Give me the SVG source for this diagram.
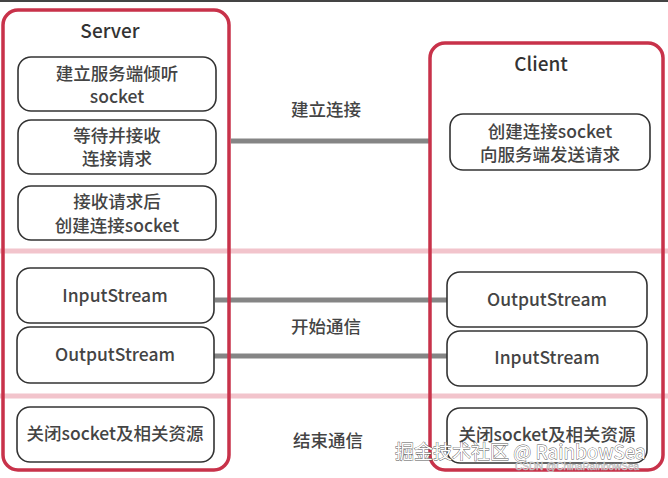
<svg xmlns="http://www.w3.org/2000/svg" width="668" height="478" viewBox="0 0 668 478">
<style>
.bg{fill:#ffffff}
.sep{stroke:#f2c4cc;stroke-width:5}
.cont{fill:none;stroke:#c8324a;stroke-width:3.5}
.box{fill:#ffffff;stroke:#333333;stroke-width:1.6}
.t{font-family:"Noto Sans CJK SC","Noto Sans",sans-serif;font-size:17.5px;font-weight:500;fill:#444444;text-anchor:middle}
.title{font-family:"Noto Sans CJK SC","Noto Sans",sans-serif;font-size:19px;font-weight:500;fill:#333333;text-anchor:middle}
.conn{stroke:#858585;stroke-width:5}
.wm{font-family:"Noto Sans CJK SC","Noto Sans",sans-serif;font-size:19px;fill:#ffffff;stroke:#555555;stroke-width:0.8;paint-order:stroke}
.wm2{font-family:"Liberation Sans",sans-serif;font-size:10px;fill:#e8e8e8;stroke:#aaaaaa;stroke-width:0.4}
</style>
<rect class="bg" x="0" y="0" width="668" height="478"/>
<rect x="0" y="0" width="668" height="2" fill="#444444"/>
<line class="sep" x1="0" y1="251" x2="668" y2="251"/>
<line class="sep" x1="0" y1="396" x2="668" y2="396"/>
<g id="connectors">
<line class="conn" x1="231" y1="141" x2="430" y2="141"/>
<line class="conn" x1="215" y1="300" x2="447" y2="300"/>
<line class="conn" x1="213" y1="356" x2="447" y2="356"/>
</g>
<g id="server">
<rect class="cont" x="3" y="10" width="226" height="460" rx="15"/>
<text class="title" x="110" y="38">Server</text>
</g>
<g id="client">
<rect class="cont" x="430" y="43" width="233" height="427" rx="15"/>
<text class="title" x="541" y="71">Client</text>
</g>
<g id="s1"><rect class="box" x="18" y="57" width="198" height="54" rx="13"/><text class="t" x="117" y="80">建立服务端倾听</text><text class="t" x="117" y="103">socket</text></g>
<g id="s2"><rect class="box" x="18" y="120" width="198" height="54" rx="13"/><text class="t" x="117" y="142">等待并接收</text><text class="t" x="117" y="165">连接请求</text></g>
<g id="s3"><rect class="box" x="18" y="186" width="198" height="54" rx="13"/><text class="t" x="117" y="208">接收请求后</text><text class="t" x="117" y="232">创建连接socket</text></g>
<g id="s4"><rect class="box" x="17" y="268" width="197" height="55" rx="13"/><text class="t" x="115" y="302">InputStream</text></g>
<g id="s5"><rect class="box" x="17" y="327" width="197" height="56" rx="13"/><text class="t" x="115" y="361">OutputStream</text></g>
<g id="s6"><rect class="box" x="17" y="407" width="197" height="55" rx="13"/><text class="t" x="115" y="440">关闭socket及相关资源</text></g>
<g id="c1"><rect class="box" x="450" y="114" width="200" height="56" rx="13"/><text class="t" x="550" y="138">创建连接socket</text><text class="t" x="550" y="161">向服务端发送请求</text></g>
<g id="c2"><rect class="box" x="447" y="272" width="200" height="55" rx="13"/><text class="t" x="547" y="306">OutputStream</text></g>
<g id="c3"><rect class="box" x="447" y="331" width="200" height="55" rx="13"/><text class="t" x="547" y="364">InputStream</text></g>
<g id="c4"><rect class="box" x="447" y="408" width="200" height="55" rx="13"/><text class="t" x="547" y="441">关闭socket及相关资源</text></g>
<g id="labels">
<text class="t" x="326" y="116">建立连接</text>
<text class="t" x="326" y="333">开始通信</text>
<text class="t" x="328" y="447">结束通信</text>
</g>
<text class="wm" x="395" y="459">掘金技术社区 @ RainbowSea</text>
<text class="wm2" x="515" y="470">CSDN @ChinaRainbowSea</text>
</svg>
